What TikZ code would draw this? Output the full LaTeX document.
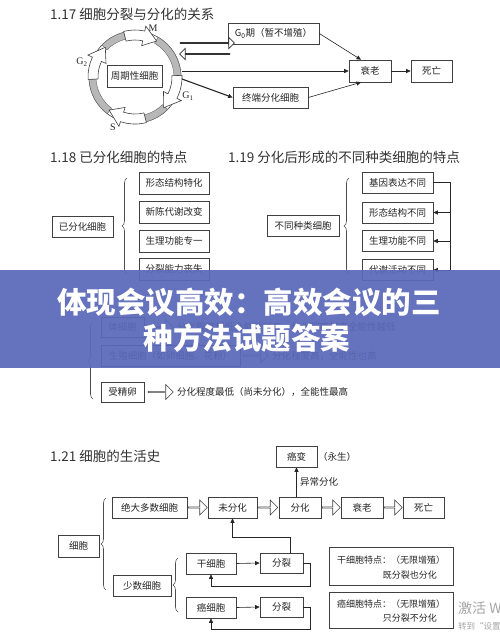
\documentclass[tikz,border=0pt]{standalone}
\usepackage{fontspec}
\setmainfont{Noto Sans CJK SC}
\newfontfamily\serifl{Liberation Serif}
\usetikzlibrary{arrows.meta,shapes.arrows,decorations.pathreplacing,calc}
\definecolor{bannerblue}{RGB}{90,104,184}
% curved hollow arrow: #1 tail angle, #2 head-base angle, #3 tip angle
\newcommand\cycarrow[3]{%
  \filldraw[fill=white, draw=black!75, line width=0.6pt]
    (#1:47) arc[start angle=#1, end angle=#2, radius=47]
    -- (#2:52) -- (#3:42) -- (#2:32) -- (#2:37)
    arc[start angle=#2, end angle=#1, radius=37] -- cycle;}
\newcommand\cycgrey[2]{%
  \filldraw[fill=black!28, draw=black!60, line width=0.4pt]
    (#1:46) arc[start angle=#1, end angle=#2, radius=46]
    -- (#2:39) arc[start angle=#2, end angle=#1, radius=39] -- cycle;}
\begin{document}
\begin{tikzpicture}[x=1pt,y=-1pt,
  box/.style={draw=black!75, line width=0.6pt, inner sep=0pt, minimum height=21pt,
    font=\fontsize{9.5}{11}\selectfont, text=black!85},
  ttl/.style={anchor=west, inner sep=0pt, font=\fontsize{13.5}{15}\selectfont, text=black!80},
  lbl/.style={inner sep=0pt, font=\fontsize{9.5}{11}\selectfont, text=black!85},
  sml/.style={inner sep=0pt, font=\fontsize{9}{11}\selectfont, text=black!85},
  glbl/.style={inner sep=0pt, font=\serifl\fontsize{10}{11}\selectfont, text=black!85},
  arr/.style={-{Triangle[length=4.5pt,width=4pt]}, line width=0.6pt, draw=black!85},
  harrow/.style={single arrow, draw=black!75, fill=white, line width=0.6pt, inner sep=0pt,
    minimum width=15pt, single arrow head extend=3.5pt, single arrow head indent=0pt},
  darrow/.style={single arrow, draw=black!80, fill=white, line width=0.7pt, inner sep=0pt,
    minimum width=11pt, single arrow head extend=3pt, single arrow head indent=0pt},
  brc/.style={decorate, decoration={brace, amplitude=5pt}, line width=0.6pt, draw=black!70},
]
\useasboundingbox[fill=white] (0,0) rectangle (500,638);

%% ---------- 1.17 ----------
\node[ttl] (t117) at (50,14) {1.17 细胞分裂与分化的关系};
\begin{scope}[shift={(135,77)}]
  \draw[black!75, line width=0.6pt] (0,0) circle[radius=46];
  \cycgrey{300}{358}\cycgrey{45}{76}\cycgrey{127}{177}\cycgrey{224}{256}
  \cycarrow{-2}{27}{47}
  \cycarrow{76}{108}{128}
  \cycarrow{177}{205}{225}
  \cycarrow{256}{282}{301}
\end{scope}
\node[box, minimum width=55pt, minimum height=22pt, fill=white] (cyc) at (134.5,76) {周期性细胞};
\node[glbl] (lM) at (153,28) {M};
\node[glbl] (lG2) at (82,62) {G\textsubscript{2}};
\node[glbl] (lG1) at (188,96) {G\textsubscript{1}};
\node[glbl] (lS) at (113,127) {S};
\coordinate (cycR) at (182,71);
\coordinate (cycR2) at (182,79);

\node[box, minimum width=91pt] (g0) at (273.5,33.5) {G\textsubscript{0}期（暂不增殖）};
\node[box, minimum width=42pt, minimum height=22pt] (shuai1) at (370,71) {衰老};
\node[box, minimum width=41pt, minimum height=22pt] (si1) at (431.5,71) {死亡};
\node[box, minimum width=75pt] (zd) at (270.5,97.5) {终端分化细胞};

\node[darrow, minimum height=50pt, shape border rotate=203.5] (da2) at (205,54) {};
\node[darrow, minimum height=54pt, shape border rotate=25] (da1) at (207,43) {};

\draw[arr] (g0.east) -- ([xshift=-9pt]shuai1.north);
\draw[arr] (cycR) -- (shuai1.west);
\draw[arr, line width=1.1pt] (cycR2) -- (zd.west);
\draw[arr] (zd.east) -- ([xshift=-9pt]shuai1.south);
\draw[arr] (shuai1.east) -- (si1.west);

%% ---------- 1.18 ----------
\node[ttl] (t118) at (50,157) {1.18 已分化细胞的特点};
\node[box, minimum width=61pt] (yfh) at (82.5,226.5) {已分化细胞};
\draw[brc] (127,274) -- (127,178);
\node[box, minimum width=70pt, minimum height=22pt] (a1) at (174,183) {形态结构特化};
\node[box, minimum width=70pt, minimum height=22pt] (a2) at (174,212) {新陈代谢改变};
\node[box, minimum width=70pt, minimum height=22pt] (a3) at (174,241) {生理功能专一};
\node[box, minimum width=70pt, minimum height=22pt] (a4) at (174,269) {分裂能力丧失};

%% ---------- 1.19 ----------
\node[ttl] (t119) at (228,157) {1.19 分化后形成的不同种类细胞的特点};
\node[box, minimum width=72pt] (btzl) at (303,226) {不同种类细胞};
\draw[brc] (349,274) -- (349,178);
\node[box, minimum width=71pt] (b1) at (397.5,182.5) {基因表达不同};
\node[box, minimum width=71pt] (b2) at (397.5,212.5) {形态结构不同};
\node[box, minimum width=71pt] (b3) at (397.5,241) {生理功能不同};
\node[box, minimum width=71pt] (b4) at (397.5,270) {代谢活动不同};
\coordinate (rr) at (450,0);
\draw[arr] (b1.east) -- (b1.east -| rr) |- (b4.east);
\draw[arr] (b2.east -| rr) -- (b2.east);
\draw[arr] (b3.east -| rr) -- (b3.east);

%% ---------- 1.20 ----------
\draw[brc] (93,399) -- (93,322);
\node[box, minimum width=43pt, minimum height=20pt] (tb) at (122.5,327) {体细胞};
\node[box, minimum width=139pt] (sz) at (170.5,355.5) {生殖细胞（如卵细胞、花粉）};
\node[box, minimum width=43pt, minimum height=20pt] (sjl) at (122.5,392) {受精卵};
\node[harrow, minimum height=25pt] (h1) at (160.5,327) {};
\node[harrow, minimum height=25pt] (h2) at (255.5,355.5) {};
\node[harrow, minimum height=25pt] (h3) at (160.5,392) {};
\node[lbl, anchor=west] (r1) at (177,327) {分化程度越低全能性越高，分化程度越高全能性越低};
\node[lbl, anchor=west] (r2) at (272,356) {分化程度高，全能性也高};
\node[lbl, anchor=west] (r3) at (177,392) {分化程度最低（尚未分化），全能性最高};

%% ---------- 1.21 ----------
\node[ttl] (t121) at (50,456) {1.21 细胞的生活史};
\node[box, minimum width=41pt] (ab) at (296.5,456.5) {癌变};
\node[lbl, anchor=west] (ys) at (318,457) {（永生）};
\node[box, minimum width=75pt] (jdds) at (149.5,507.5) {绝大多数细胞};
\node[box, minimum width=49pt] (wfh) at (232.5,507.5) {未分化};
\node[box, minimum width=42pt] (fh) at (300,507.5) {分化};
\node[box, minimum width=42pt] (sl) at (362,507.5) {衰老};
\node[box, minimum width=41pt] (sw) at (423.5,507.5) {死亡};
\node[harrow, minimum height=19pt] (m1) at (197.5,507.5) {};
\node[harrow, minimum height=19pt] (m2) at (268,507.5) {};
\node[harrow, minimum height=18pt] (m3) at (331,507.5) {};
\node[harrow, minimum height=18pt] (m4) at (393,507.5) {};
\draw[arr] (ab.south |- fh.north) -- (ab.south);
\node[lbl, anchor=west] (ycfh) at (300,482) {异常分化};

\node[box, minimum width=41pt, minimum height=22pt] (xb) at (78.5,546) {细胞};
\draw[brc] (106,590) -- (106,498);
\node[box, minimum width=58pt] (sscb) at (142,585.5) {少数细胞};
\draw[brc] (178,612) -- (178,558);
\node[box, minimum width=50pt] (gxb) at (211,563.5) {干细胞};
\node[box, minimum width=50pt] (axb) at (211,607.5) {癌细胞};
\node[box, minimum width=43pt, minimum height=20pt] (fl1) at (281.5,563) {分裂};
\node[box, minimum width=43pt, minimum height=20pt] (fl2) at (281.5,607) {分裂};
\draw[arr] (gxb.east) -- (fl1.west);
\draw[arr] (axb.east) -- (fl2.west);
\draw[arr] (fl1.east) -- ++(7,0) -- ++(0,23) -| (gxb.south);
\draw[arr] (fl2.east) -- ++(7,0) -- ++(0,22) -| (axb.south);
\draw[arr] ([xshift=8.5pt]fl1.north) -- ++(0,-15) -| (wfh.south);

\node[box, minimum width=124pt, minimum height=38pt] (gtd) at (391,566) {};
\node[sml, anchor=west] (gtd1) at (337,560) {干细胞特点：（无限增殖）};
\node[sml, anchor=east] (gtd2) at (437,575) {既分裂也分化};
\node[box, minimum width=124pt, minimum height=36pt] (atd) at (391,610) {};
\node[sml, anchor=west] (atd1) at (337,604) {癌细胞特点：（无限增殖）};
\node[sml, anchor=east] (atd2) at (437,618) {只分裂不分化};

\node[inner sep=0pt, anchor=west, text=black!35, font=\fontsize{14}{16}\selectfont] (wm1) at (458,608) {激活 Windows};
\node[inner sep=0pt, anchor=west, text=black!35, font=\fontsize{8.5}{10}\selectfont] (wm2) at (458,626) {转到“设置”以激活 Windows。};

%% ---------- banner ----------
\fill[bannerblue, opacity=0.93] (0,270) rectangle (500,368);
\node[inner sep=0pt, text=white, font=\fontsize{29.5}{36}\selectfont\bfseries] (bn1) at (249,302) {体现会议高效：高效会议的三};
\node[inner sep=0pt, text=white, font=\fontsize{29.5}{36}\selectfont\bfseries] (bn2) at (247,338) {种方法试题答案};
\end{tikzpicture}
\end{document}
